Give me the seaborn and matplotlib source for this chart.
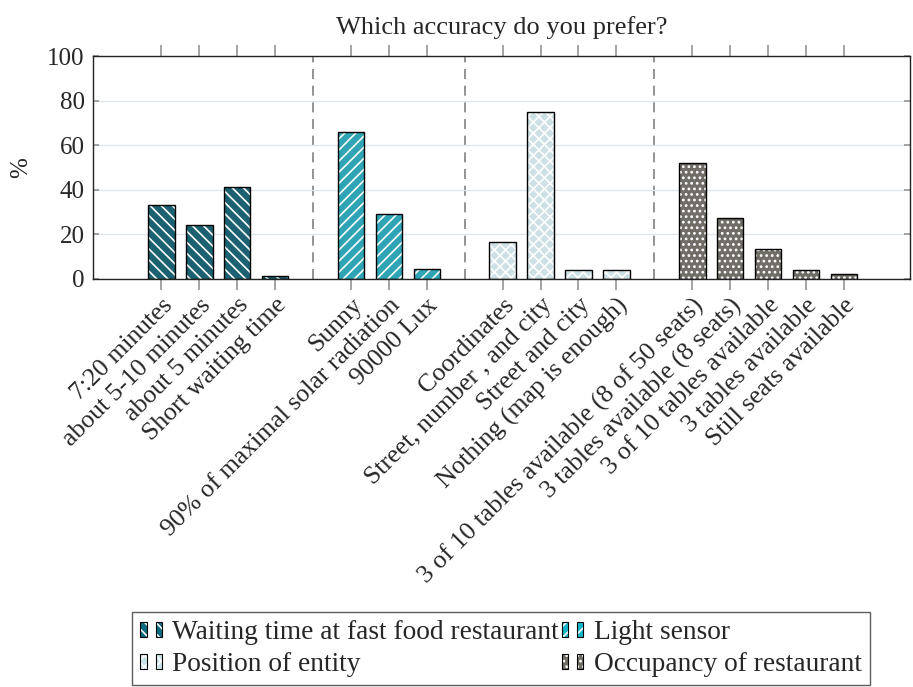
import matplotlib
matplotlib.use("Agg")
import matplotlib.pyplot as plt
import seaborn as sns
import pandas as pd
from matplotlib.patches import Patch
from matplotlib.legend_handler import HandlerTuple

# survey answers (% of respondents), one list per question
groups = ["Waiting time at fast food restaurant", "Light sensor",
          "Position of entity", "Occupancy of restaurant"]

waiting_labels = ["7:20 minutes", "about 5-10 minutes", "about 5 minutes", "Short waiting time"]
waiting_values = [33.4, 24.3, 41.2, 1.4]

light_labels = ["Sunny", "90% of maximal solar radiation", "90000 Lux"]
light_values = [66.2, 29.3, 4.3]

position_labels = ["Coordinates", "Street, number , and city", "Street and city", "Nothing (map is enough)"]
position_values = [16.6, 75.2, 3.9, 3.9]

occupancy_labels = ["3 of 10 tables available (8 of 50 seats)", "3 tables available (8 seats)",
                    "3 of 10 tables available", "3 tables available", "Still seats available"]
occupancy_values = [52.2, 27.5, 13.5, 4.2, 2.4]

colors = ["#0c6a81", "#17b5cc", "#c9e2ea", "#716e66"]
hatches = ["\\\\\\", "///", "xxx", "..."]

sns.set_theme(style="white")
plt.rcParams["font.family"] = ["Liberation Serif", "DejaVu Serif"]
plt.rcParams["hatch.linewidth"] = 1.2

# one empty slot between questions, separators go there
rows, seps, pos = [], [], 0
all_labels = [waiting_labels, light_labels, position_labels, occupancy_labels]
all_values = [waiting_values, light_values, position_values, occupancy_values]
for g, labels, values in zip(groups, all_labels, all_values):
    for lab, val in zip(labels, values):
        rows.append({"pos": pos, "label": lab, "value": val, "group": g})
        pos += 1
    seps.append(pos)
    pos += 1
seps = seps[:-1]
df = pd.DataFrame(rows)

fig = plt.figure(figsize=(9.13, 6.87), dpi=100)
ax = fig.add_axes([0.102, 0.594, 0.895, 0.324])

# filled bars with white hatching, then black outlines on top
sns.barplot(data=df, x="pos", y="value", hue="group", hue_order=groups, palette=colors,
            native_scale=True, dodge=False, width=0.7, errorbar=None,
            edgecolor="white", linewidth=0, legend=False, ax=ax)
for cont, h in zip(ax.containers, hatches):
    for p in cont:
        p.set_hatch(h)
sns.barplot(data=df, x="pos", y="value", native_scale=True, width=0.7, errorbar=None,
            fill=False, color="black", linewidth=1.0, ax=ax)

for s in seps:
    ax.axvline(s, color="#808080", ls=(0, (6, 4)), lw=1.2, zorder=0.5)

ax.set_xlim(-1.8, 19.75)
ax.set_ylim(0, 100)
ax.set_yticks(range(0, 101, 20))
ax.set_xticks(df["pos"], labels=df["label"], rotation=45, ha="right",
              rotation_mode="anchor", fontsize=18.5)
ax.tick_params(axis="y", labelsize=18, direction="in", length=4, color="#999999",
               left=True, right=True, pad=6)
ax.tick_params(axis="x", direction="out", length=8, color="#999999",
               bottom=True, top=True, labeltop=False, pad=3)
ax.yaxis.grid(True, color="#dde5eb", lw=0.9)
ax.set_axisbelow(True)
for sp in ax.spines.values():
    sp.set_color("#222222")
    sp.set_linewidth(1.0)

ax.set_xlabel("")
ax.set_ylabel("%", fontsize=18, labelpad=11)
ax.set_title("Which accuracy do you prefer?", fontsize=19, pad=16)

# legend: two small swatches per entry like the original
handles = []
for c, h in zip(colors, hatches):
    pair = []
    for _ in range(2):
        pair.append((Patch(facecolor=c, edgecolor="white", hatch=h, lw=0),
                     Patch(facecolor="none", edgecolor="black", lw=0.8)))
    handles.append(tuple(pair))
order = [0, 2, 1, 3]
leg = fig.legend([handles[i] for i in order], [groups[i] for i in order],
                 handler_map={hd: HandlerTuple(ndivide=None, pad=0.33) for hd in handles},
                 ncol=2, loc="upper center", bbox_to_anchor=(0.549, 1 - 612 / 687),
                 borderaxespad=0, fontsize=19.7, frameon=True, fancybox=False,
                 edgecolor="#333333", columnspacing=0.1, handletextpad=0.4,
                 borderpad=0.3, labelspacing=0.25, handlelength=0.77, handleheight=0.5)
leg.get_frame().set_linewidth(1.0)

fig.savefig("out.png", dpi=100)
